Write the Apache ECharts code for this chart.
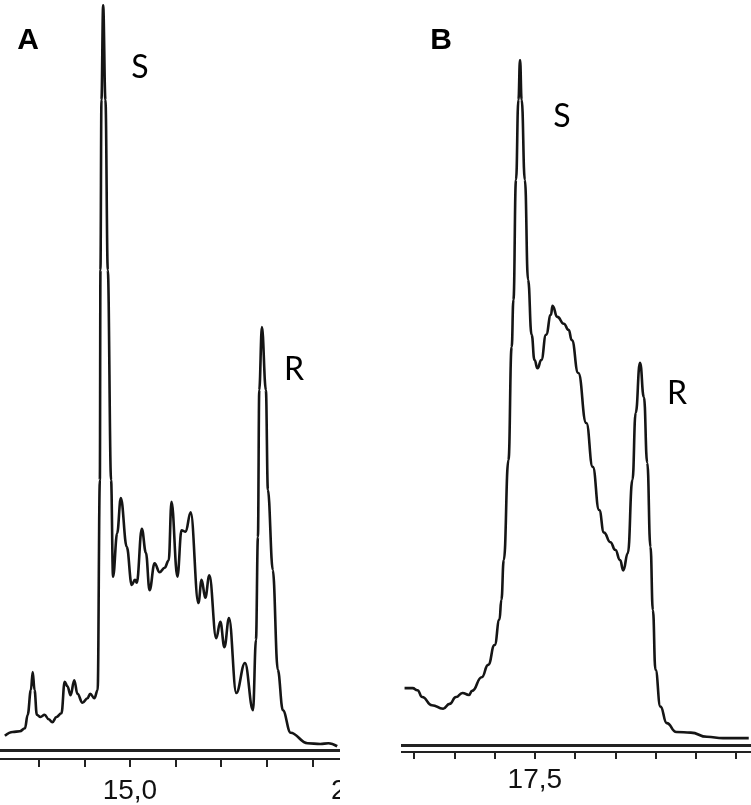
<!DOCTYPE html>
<html>
<head>
<meta charset="utf-8">
<script src="https://cdn.jsdelivr.net/npm/echarts@6/dist/echarts.min.js"></script>
<style>
  html, body { margin: 0; padding: 0; background: #fff; overflow: hidden; }
  .clip { position: absolute; top: 0; height: 805px; overflow: hidden; }
  .inner { position: absolute; top: 0; height: 805px; }
</style>
</head>
<body>
<!-- panel A, cut off on the right like in the figure -->
<div class="clip" style="left:0;width:340px;">
  <div id="chartA" class="inner" style="left:-10px;width:440px;"></div>
</div>
<!-- panel B -->
<div class="clip" style="left:401px;width:350px;">
  <div id="chartB" class="inner" style="left:-30px;width:420px;"></div>
</div>
<script>
// retention time (min) and detector signal (relative units, 0-100)
var timeA = [12.26,12.43,12.59,12.70,12.76,12.83,12.87,12.91,12.96,13.04,13.13,13.22,13.30,13.39,13.50,13.57,13.63,13.70,13.78,13.85,
  13.96,14.07,14.13,14.22,14.293,14.341,14.354,14.376,14.413,14.463,14.515,14.587,14.630,14.72,14.80,14.93,15.04,15.11,15.15,15.26,
  15.35,15.43,15.54,15.65,15.76,15.85,15.91,16.04,16.13,16.22,16.33,16.50,16.57,16.65,16.74,16.89,16.98,17.07,17.17,17.33,
  17.52,17.696,17.761,17.804,17.833,17.891,17.978,18.022,18.130,18.239,18.35,18.52,18.89,19.17,19.35,19.54];
var signalA = [1.9,2.4,2.5,2.9,4.7,8.0,10.4,8.0,4.7,4.4,4.7,4.1,3.7,4.4,4.9,9.1,8.5,7.3,9.3,7.5,
  6.3,6.9,7.5,6.9,8.0,36,64,86.7,99.3,86.7,64,36,23.1,28.9,33.6,27.1,22,22.7,22.3,29.5,
  26.3,21.3,24.9,23.7,24.3,25.3,33.1,23.1,29.3,29.1,31.7,19.6,22.7,20.3,23.3,14.9,17.1,13.7,17.6,7.6,
  11.6,5.3,14.7,28.4,48,56.4,48,34.7,24,10.7,5.3,2.3,0.9,0.8,0.9,0.5];

var timeB = [16.69,16.74,16.77,16.80,16.86,16.93,16.97,17.01,17.05,17.09,17.11,17.17,17.21,17.25,17.28,17.292,17.307,17.336,17.356,17.367,
  17.383,17.398,17.408,17.418,17.438,17.458,17.480,17.498,17.517,17.54,17.57,17.60,17.61,17.64,17.68,17.71,17.73,17.77,17.82,17.86,
  17.90,17.93,17.97,18.00,18.03,18.05,18.078,18.107,18.127,18.154,18.178,18.199,18.219,18.234,18.250,18.281,18.32,18.38,18.47,18.57,
  18.67,18.83];
var signalB = [8.3,8.3,8.0,7.0,5.8,5.3,6.0,7.0,7.6,7.3,7.9,9.9,11.7,14.6,18.3,21.2,27.0,41.6,58.1,65.0,
  82.5,94.2,100,94.2,82.5,67.9,59.9,56.2,55.0,56.2,59.9,62.8,64.1,62.5,61.5,60.6,59.1,54.3,47.0,40.6,
  34.3,31.0,29.6,28.5,27.0,25.5,28.0,38.7,48.5,55.8,50.8,41.2,28.9,19.7,11.0,5.6,3.2,1.9,1.8,1.2,
  1.0,1.0];

// labels
var panelA = ['A', 'S', 'R'];
var panelB = ['B', 'S', 'R'];

function pairs(xs, ys) {
  return xs.map(function (x, i) { return [x, ys[i]]; });
}

function fmt(v) {
  return v.toFixed(1).replace('.', ',');
}

// builds option for one panel
function build(cfg) {
  var tickAxis = {
    type: 'value', min: cfg.min, max: cfg.max, interval: cfg.step,
    position: 'bottom', offset: cfg.offset,
    axisLine: { show: true, onZero: false, lineStyle: { color: '#222', width: 2 } },
    axisTick: { show: true, length: cfg.tickLen, lineStyle: { color: '#222', width: 2 } },
    axisLabel: {
      margin: cfg.labelMargin, fontSize: 28, color: '#111', fontFamily: 'Liberation Sans, Arial, sans-serif',
      formatter: function (v) {
        var k = v / cfg.labelEvery;
        return Math.abs(k - Math.round(k)) < 1e-6 ? fmt(v) : '';
      }
    },
    splitLine: { show: false }
  };
  return {
    animation: false,
    grid: { left: 0, top: cfg.top, height: cfg.height, width: cfg.width },
    xAxis: [{
      type: 'value', min: cfg.min, max: cfg.max, position: 'bottom',
      axisLine: { show: true, onZero: false, lineStyle: { color: '#222', width: 3 } },
      axisTick: { show: false }, axisLabel: { show: false }, splitLine: { show: false }
    }, tickAxis],
    yAxis: { type: 'value', min: 0, max: 100, show: false },
    series: [{
      type: 'line', data: pairs(cfg.x, cfg.y), xAxisIndex: 0,
      smooth: cfg.smooth, smoothMonotone: 'x', showSymbol: false,
      lineStyle: { color: '#151515', width: 2.6 }
    }],
    graphic: cfg.texts.map(function (t, i) {
      return {
        type: 'text', x: cfg.pos[i][0], y: cfg.pos[i][1],
        style: {
          text: t, fill: '#000', textAlign: 'center', textVerticalAlign: 'middle',
          font: i === 0 ? 'bold 30px Liberation Sans, Arial, sans-serif' : '32px Lato, sans-serif'
        }
      };
    })
  };
}

var chartA = echarts.init(document.getElementById('chartA'));
chartA.setOption(build({
  x: timeA, y: signalA, min: 12, max: 20.5, step: 1, labelEvery: 5, smooth: 0.4,
  top: 0, height: 750, width: 391, offset: 9, tickLen: 8, labelMargin: 18,
  texts: panelA, pos: [[38, 41], [150, 68], [304, 370]]
}));

var chartB = echarts.init(document.getElementById('chartB'));
chartB.setOption(build({
  x: timeB, y: signalB, min: 16.5, max: 18.9, step: 0.25, labelEvery: 2.5, smooth: 0.5,
  top: 60, height: 685, width: 389, offset: 7, tickLen: 7, labelMargin: 14,
  texts: panelB, pos: [[70, 41], [191, 117], [306, 394]]
}));
</script>
</body>
</html>
